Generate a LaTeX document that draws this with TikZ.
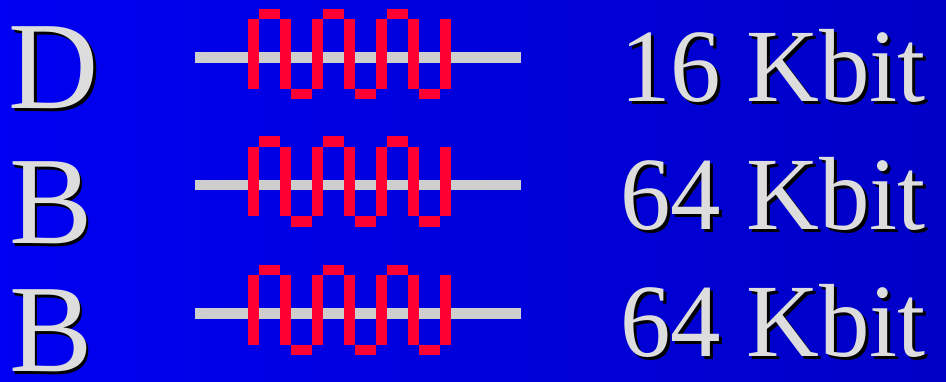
\documentclass[tikz,border=0pt]{standalone}
\usepackage{fontspec}
\setmainfont{Liberation Serif}
\usepackage{xcolor}
\usepackage{tikz}
\usetikzlibrary{positioning}

\definecolor{bgleft}{RGB}{0,0,242}
\definecolor{bgright}{RGB}{0,0,198}
\definecolor{txtgray}{RGB}{221,221,221}
\definecolor{wiregray}{RGB}{206,206,206}
\definecolor{pulsered}{RGB}{255,0,51}

\begin{document}
\begin{tikzpicture}[
    x=1pt, y=-1pt,
    chan/.style={inner sep=0pt, anchor=base west, text=txtgray, font=\fontsize{125}{125}\selectfont},
    rate/.style={inner sep=0pt, anchor=base east, text=txtgray, xscale=0.97, transform shape, font=\fontsize{104}{104}\selectfont},
    shade/.style={text=black},
    wire/.style={draw=wiregray, line width=10.5pt},
    pulse/.style={fill=pulsered}
]
    % background
    \fill [left color=bgleft, right color=bgright] (0,0) rectangle (946,382);
    \useasboundingbox (0,0) rectangle (946,382);

    % channel lines with the square waves
    \foreach \c [count=\r] in {57.5,185.2,313.5} {
        \draw [wire] (195,\c) -- (521,\c);
        \foreach \k in {0,...,6}
            \fill [pulse] ({248.3+32*\k},{\c-38}) rectangle +(10.7,69.2);
        \foreach \j in {0,2,4}
            \fill [pulse] ({259+32*\j},{\c-48.7}) rectangle +(21.3,10.7);
        \foreach \j in {1,3,5}
            \fill [pulse] ({259+32*\j},{\c+31.2}) rectangle +(21.3,10.8);
    }

    % channel letters
    \node [chan, shade] (dsh) at (10.8,111.3) {D};
    \node [chan] (d) at (8,108.5) {D};
    \node [chan, shade] (b1sh) at (11.8,246.1) {B};
    \node [chan] (b1) at (9,243.3) {B};
    \node [chan, shade] (b2sh) at (11.8,374.5) {B};
    \node [chan] (b2) at (9,371.7) {B};

    % bit rates
    \node [rate, shade] (r1sh) at (928.8,104.5) {16 Kbit};
    \node [rate] (r1) at (926,101.7) {16 Kbit};
    \node [rate, shade] (r2sh) at (928.8,232.1) {64 Kbit};
    \node [rate] (r2) at (926,229.3) {64 Kbit};
    \node [rate, shade] (r3sh) at (928.8,359.1) {64 Kbit};
    \node [rate] (r3) at (926,356.3) {64 Kbit};
\end{tikzpicture}
\end{document}
